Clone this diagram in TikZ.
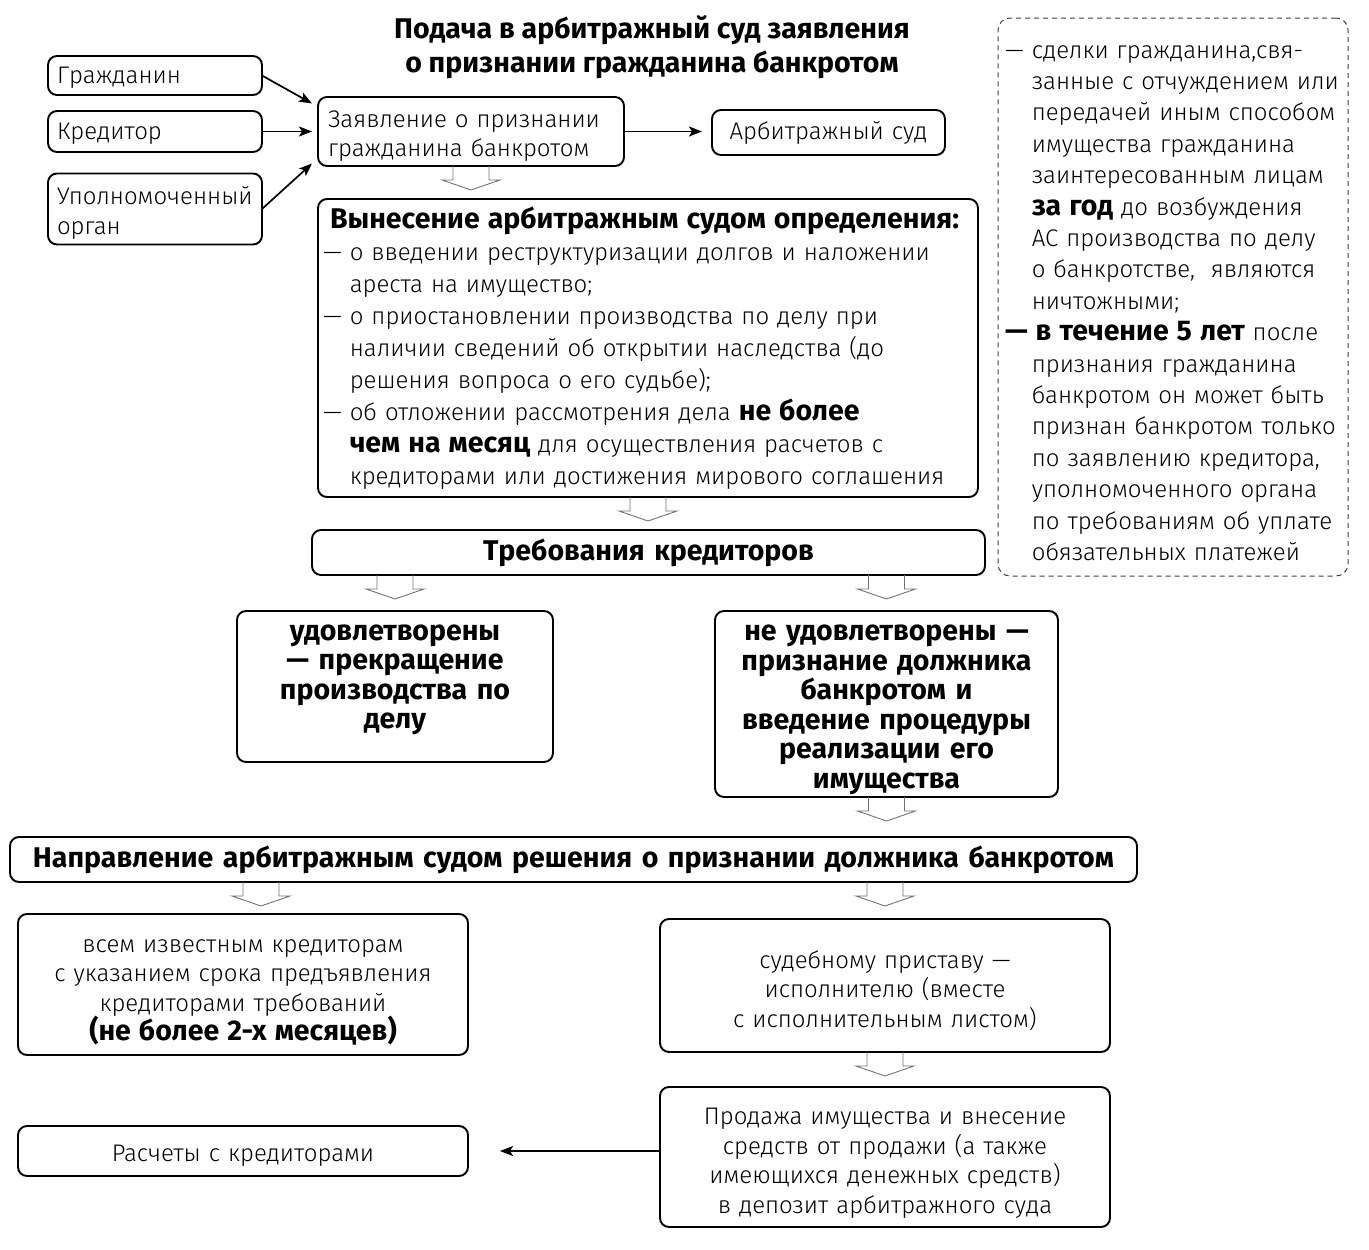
\documentclass[tikz,border=0pt]{standalone}
\usepackage{fontspec}
\setmainfont{Fira Sans Light}[BoldFont={Fira Sans Bold}]
\usetikzlibrary{arrows.meta,calc}
\newcommand\bb[1]{{\bfseries\fontsize{28.5}{29.5}\selectfont #1}}
\newcommand\dn[1]{\mbox{}\\[#1]}
\begin{document}
\begin{tikzpicture}[x=1pt,y=-1pt,
 box/.style={draw, line width=1.9pt, rounded corners=9pt, inner ysep=0pt, inner xsep=10pt, outer sep=0pt},
 note/.style={draw=black!75, line width=1pt, dash pattern=on 5pt off 4pt, rounded corners=12pt, inner ysep=0pt, inner xsep=7pt},
 arr/.style={line width=1.7pt, -{Stealth[length=13pt,width=10pt,inset=3pt]}},
 harrowline/.style={draw=black!55, line width=0.9pt, line join=miter},
 reg/.style={font=\fontsize{24}{29.5}\selectfont},
 bld/.style={font=\bfseries\fontsize{28.5}{29.5}\selectfont},
 harrow/.pic={\draw[harrowline] (-18,0) -- (-18,14) -- (-29,14) -- (0,24) -- (29,14) -- (18,14) -- (18,0);}
]
\useasboundingbox (0,0) rectangle (1369,1250);

% title
\node[align=center, font=\bfseries\fontsize{28.5}{34}\selectfont] (title) at (652,47)
  {Подача в арбитражный суд заявления\\о признании гражданина банкротом};

% applicants
\node[box, reg, minimum width=214pt, minimum height=39pt, inner xsep=9pt, text width=196pt, align=left] (grazh) at (155,75.5) {\dn{-8.9pt}Гражданин};
\node[box, reg, minimum width=214pt, minimum height=41pt, inner xsep=9pt, text width=196pt, align=left] (kred) at (155,131.5) {\dn{-8.9pt}Кредитор};
\node[box, reg, minimum width=214pt, minimum height=71pt, inner xsep=9pt, text width=196pt, align=left] (upol) at (155,209) {\dn{-3.5pt}Уполномоченный\\орган};

\node[box, reg, minimum width=306pt, minimum height=69pt, text width=286pt, align=left] (zayav) at (471,131.5) {\dn{-3.9pt}Заявление о признании\\гражданина банкротом};
\node[box, reg, minimum width=233pt, minimum height=45pt, text width=213pt, align=center] (sud) at (828.5,132.5) {Арбитражный суд};

\draw[arr] (grazh.east) -- ($(zayav.west)+(-6,-28)$);
\draw[arr] (kred.east) -- ($(zayav.west)+(-6,0)$);
\draw[arr] (upol.east) -- ($(zayav.west)+(-6,32)$);
\draw[arr] (zayav.east) -- ($(sud.west)+(-10,-1)$);

% main decision box
\node[box, font=\fontsize{24}{32}\selectfont, minimum width=660pt, minimum height=298pt, text width=650pt, inner xsep=5pt, align=left] (vyn) at (648,348)
 {\hspace*{7pt}\bb{Вынесение арбитражным судом определения:}\\
 — о введении реструктуризации долгов и наложении\\
 \hphantom{— }ареста на имущество;\\
 — о приостановлении производства по делу при\\
 \hphantom{— }наличии сведений об открытии наследства (до\\
 \hphantom{— }решения вопроса о его судьбе);\\
 — об отложении рассмотрения дела \bb{не более}\\
 \hphantom{— }\bb{чем на месяц} для осуществления расчетов с\\
 \hphantom{— }кредиторами или достижения мирового соглашения};
\pic at (zayav.south) {harrow};

% note
\node[note, font=\fontsize{24}{31.4}\selectfont, minimum width=350pt, minimum height=558pt, text width=336pt, align=left] (note) at (1173,297)
 {\dn{-6.7pt}— сделки гражданина,свя-\\
 \hphantom{— }занные с отчуждением или\\
 \hphantom{— }передачей иным способом\\
 \hphantom{— }имущества гражданина\\
 \hphantom{— }заинтересованным лицам\\
 \hphantom{— }\bb{за год} до возбуждения\\
 \hphantom{— }АС производства по делу\\
 \hphantom{— }о банкротстве,\ \ являются\\
 \hphantom{— }ничтожными;\\
 \bb{— в течение 5 лет} после\\
 \hphantom{— }признания гражданина\\
 \hphantom{— }банкротом он может быть\\
 \hphantom{— }признан банкротом только\\
 \hphantom{— }по заявлению кредитора,\\
 \hphantom{— }уполномоченного органа\\
 \hphantom{— }по требованиям об уплате\\
 \hphantom{— }обязательных платежей};

% requirements
\node[box, bld, minimum width=673pt, minimum height=45pt, text width=653pt, align=center] (treb) at (648.5,552.5) {Требования кредиторов};
\pic at (vyn.south) {harrow};

\node[box, bld, minimum width=316pt, minimum height=151pt, text width=296pt, align=center] (udov) at (395,686.5)
 {удовлетворены\\— прекращение\\производства по\\делу\\[-10pt]\mbox{}};
\node[box, bld, minimum width=343pt, minimum height=186pt, text width=323pt, align=center] (neudov) at (886.5,704)
 {\dn{-2.2pt}не удовлетворены —\\признание должника\\банкротом и\\введение процедуры\\реализации его\\имущества};
\pic at (udov.north |- treb.south) {harrow};
\pic at (neudov.north |- treb.south) {harrow};

% decision direction
\node[box, bld, minimum width=1127pt, minimum height=45pt, text width=1117pt, inner xsep=5pt, align=center] (napr) at (573.5,859.5)
 {Направление арбитражным судом решения о признании должника банкротом};
\pic at (neudov.south) {harrow};

\node[box, reg, minimum width=450pt, minimum height=141pt, text width=430pt, align=center] (vsem) at (243,984.5)
 {\dn{-0.8pt}всем известным кредиторам\\с указанием срока предъявления\\кредиторами требований\\\bb{(не более 2-х месяцев)}};
\node[box, reg, minimum width=450pt, minimum height=133pt, text width=430pt, align=center] (sudpr) at (885,985.5)
 {\dn{-2pt}судебному приставу —\\исполнителю (вместе\\с исполнительным листом)};
\pic at ($(napr.south -| vsem.north)+(18,0)$) {harrow};
\pic at (napr.south -| sudpr.north) {harrow};

\node[box, reg, minimum width=450pt, minimum height=140pt, text width=430pt, align=center] (prod) at (885,1157)
 {\dn{-0.9pt}Продажа имущества и внесение\\средств от продажи (а также\\имеющихся денежных средств)\\в депозит арбитражного суда};
\node[box, reg, minimum width=450pt, minimum height=50pt, text width=430pt, align=center] (rasch) at (243,1151)
 {\dn{-2.9pt}Расчеты с кредиторами};
\pic at (sudpr.south) {harrow};

\draw[arr] (prod.west |- rasch.east) -- ($(rasch.east)+(32,0)$);
\end{tikzpicture}
\end{document}
